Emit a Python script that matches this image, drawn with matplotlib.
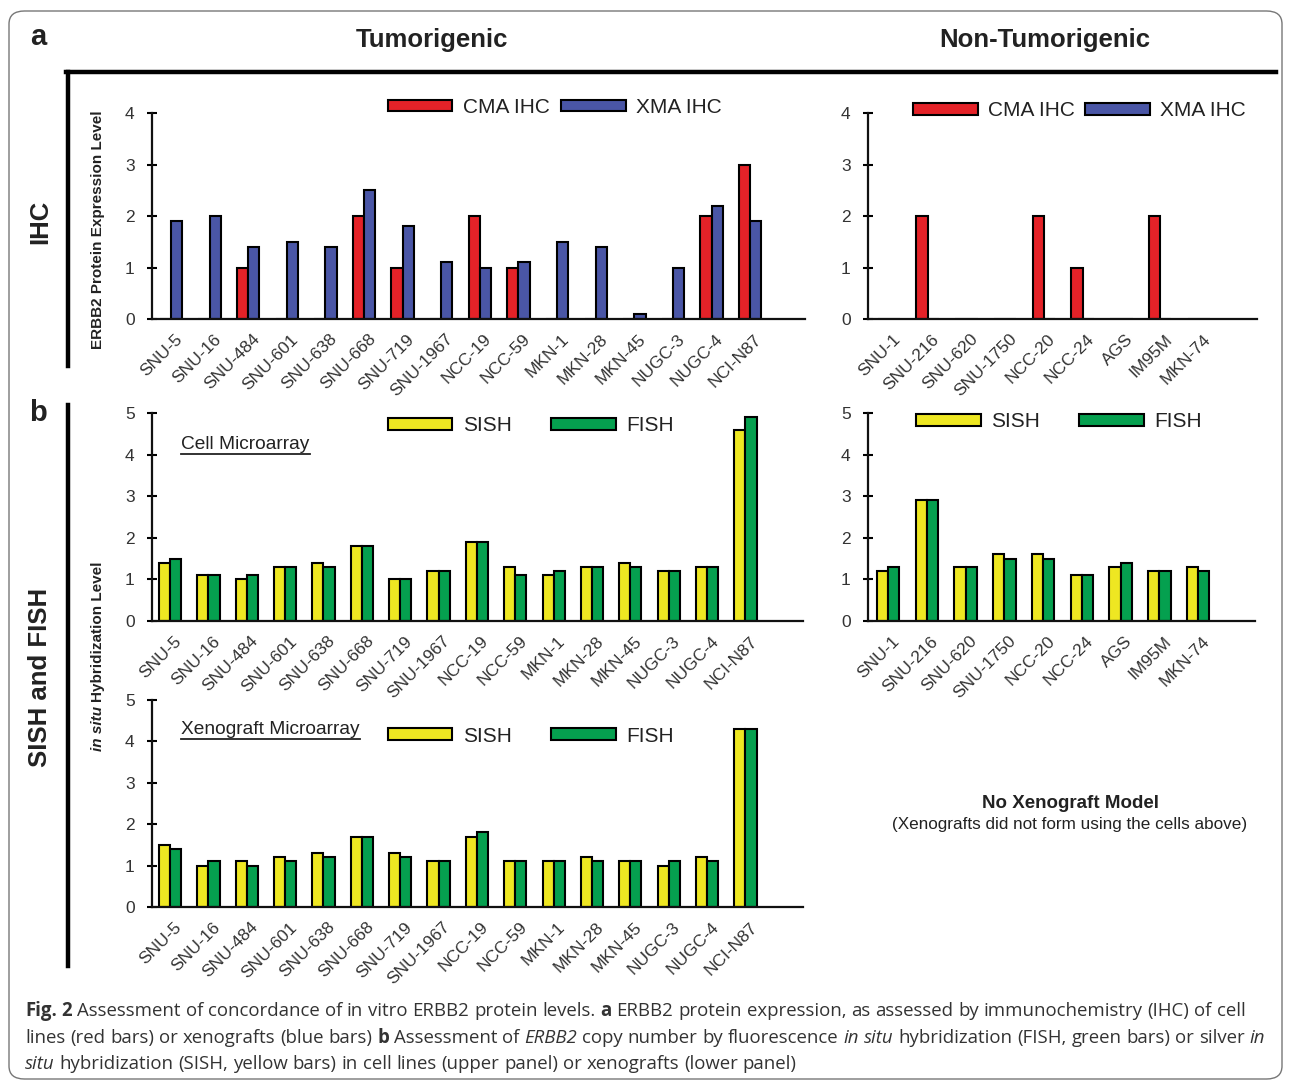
import numpy as np
import matplotlib
matplotlib.use('Agg')
import matplotlib.pyplot as plt
from matplotlib.patches import Patch, FancyBboxPatch
from matplotlib.lines import Line2D

plt.rcParams['font.family'] = ['Liberation Sans', 'DejaVu Sans']

W, H = 1292, 1082

tum_lines = ['SNU-5', 'SNU-16', 'SNU-484', 'SNU-601', 'SNU-638', 'SNU-668', 'SNU-719',
             'SNU-1967', 'NCC-19', 'NCC-59', 'MKN-1', 'MKN-28', 'MKN-45', 'NUGC-3',
             'NUGC-4', 'NCI-N87']
non_lines = ['SNU-1', 'SNU-216', 'SNU-620', 'SNU-1750', 'NCC-20', 'NCC-24', 'AGS',
             'IM95M', 'MKN-74']

# IHC scores
cma_ihc_tum = [0, 0, 1, 0, 0, 2, 1, 0, 2, 1, 0, 0, 0, 0, 2, 3]
xma_ihc_tum = [1.9, 2.0, 1.4, 1.5, 1.4, 2.5, 1.8, 1.1, 1.0, 1.1, 1.5, 1.4, 0.1, 1.0, 2.2, 1.9]
cma_ihc_non = [0, 2, 0, 0, 2, 1, 0, 2, 0]
xma_ihc_non = [0, 0, 0, 0, 0, 0, 0, 0, 0]

# in situ hybridization, cell microarray
sish_cell_tum = [1.4, 1.1, 1.0, 1.3, 1.4, 1.8, 1.0, 1.2, 1.9, 1.3, 1.1, 1.3, 1.4, 1.2, 1.3, 4.6]
fish_cell_tum = [1.5, 1.1, 1.1, 1.3, 1.3, 1.8, 1.0, 1.2, 1.9, 1.1, 1.2, 1.3, 1.3, 1.2, 1.3, 4.9]
sish_cell_non = [1.2, 2.9, 1.3, 1.6, 1.6, 1.1, 1.3, 1.2, 1.3]
fish_cell_non = [1.3, 2.9, 1.3, 1.5, 1.5, 1.1, 1.4, 1.2, 1.2]

# in situ hybridization, xenograft microarray
sish_xeno_tum = [1.5, 1.0, 1.1, 1.2, 1.3, 1.7, 1.3, 1.1, 1.7, 1.1, 1.1, 1.2, 1.1, 1.0, 1.2, 4.3]
fish_xeno_tum = [1.4, 1.1, 1.0, 1.1, 1.2, 1.7, 1.2, 1.1, 1.8, 1.1, 1.1, 1.1, 1.1, 1.1, 1.1, 4.3]

RED, BLUE = '#e42228', '#4a56a6'
YELLOW, GREEN = '#eee722', '#05a04f'
INK = '#222222'

fig = plt.figure(figsize=(W / 100, H / 100), dpi=100)
renderer = fig.canvas.get_renderer()


def px_axes(l, r, t, b):
    return fig.add_axes([l / W, 1 - b / H, (r - l) / W, (b - t) / H])


def bar_panel(ax, labels, s1, s2, c1, c2, ymax, xlim, width=0.29):
    x = np.arange(len(labels))
    ax.bar(x - width / 2, s1, width, color=c1, edgecolor='black', linewidth=1.5)
    ax.bar(x + width / 2, s2, width, color=c2, edgecolor='black', linewidth=1.5)
    ax.set_xlim(*xlim)
    ax.set_ylim(0, ymax)
    ax.set_yticks(range(ymax + 1))
    ax.set_xticks(x + 0.1)
    ax.set_xticklabels(labels, rotation=45, ha='right', rotation_mode='anchor',
                       fontsize=12.5, color='#333333')
    for side in ('top', 'right'):
        ax.spines[side].set_visible(False)
    for side in ('left', 'bottom'):
        ax.spines[side].set_linewidth(1.6)
        ax.spines[side].set_color('#111111')
    ax.tick_params(axis='y', direction='inout', length=7, width=1.5, pad=9,
                   labelsize=12.5, labelcolor='#333333')
    ax.tick_params(axis='x', length=0, pad=9)
    ax.set_facecolor('none')


def legend(ax, names, colors, xy, colspace):
    handles = [Patch(facecolor=c, edgecolor='black', linewidth=1.5) for c in colors]
    ax.legend(handles, names, loc='center left', bbox_to_anchor=xy, ncol=2,
              frameon=False, fontsize=15, handlelength=3.1, handleheight=0.5,
              handletextpad=0.5, columnspacing=colspace, borderpad=0,
              borderaxespad=0, labelcolor=INK)


def underlined(ax, x, y, s):
    t = ax.text(x, y, s, transform=ax.transAxes, fontsize=13.8, va='baseline', color=INK)
    bb = t.get_window_extent(renderer)
    inv = fig.transFigure.inverted()
    (x0, y0), (x1, _) = inv.transform([[bb.x0, bb.y0 - 1], [bb.x1, bb.y1]])
    fig.add_artist(Line2D([x0, x1], [y0, y0], color=INK, lw=1.3))


# a: IHC
ax1 = px_axes(152, 805, 113, 319)
bar_panel(ax1, tum_lines, cma_ihc_tum, xma_ihc_tum, RED, BLUE, 4, (-0.49, 16.42))
legend(ax1, ['CMA IHC', 'XMA IHC'], [RED, BLUE], (0.361, 1.027), 0.55)

ax2 = px_axes(868, 1257, 113, 319)
bar_panel(ax2, non_lines, cma_ihc_non, xma_ihc_non, RED, BLUE, 4, (-0.54, 9.5))
legend(ax2, ['CMA IHC', 'XMA IHC'], [RED, BLUE], (0.116, 1.01), 0.5)

# b: SISH and FISH
ax3 = px_axes(152, 803, 413, 621)
bar_panel(ax3, tum_lines, sish_cell_tum, fish_cell_tum, YELLOW, GREEN, 5, (-0.47, 16.5))
legend(ax3, ['SISH', 'FISH'], [YELLOW, GREEN], (0.362, 0.94), 1.9)

ax4 = px_axes(868, 1255, 413, 621)
bar_panel(ax4, non_lines, sish_cell_non, fish_cell_non, YELLOW, GREEN, 5, (-0.52, 9.47))
legend(ax4, ['SISH', 'FISH'], [YELLOW, GREEN], (0.124, 0.957), 1.9)

ax5 = px_axes(152, 803, 700, 907)
bar_panel(ax5, tum_lines, sish_xeno_tum, fish_xeno_tum, YELLOW, GREEN, 5, (-0.47, 16.5))
legend(ax5, ['SISH', 'FISH'], [YELLOW, GREEN], (0.362, 0.826), 1.9)

underlined(ax3, 0.045, 0.825, 'Cell Microarray')
underlined(ax5, 0.045, 0.838, 'Xenograft Microarray')

# headers and panel labels
fig.text(38 / W, 1 - 37 / H, 'a', fontsize=21, fontweight='bold', ha='center', va='center', color=INK)
fig.text(38 / W, 1 - 413 / H, 'b', fontsize=21, fontweight='bold', ha='center', va='center', color=INK)
fig.text(432 / W, 1 - 40 / H, 'Tumorigenic', fontsize=18.5, fontweight='bold', ha='center', va='center', color=INK)
fig.text(1045 / W, 1 - 40 / H, 'Non-Tumorigenic', fontsize=18.5, fontweight='bold', ha='center', va='center', color=INK)
fig.text(40 / W, 1 - 222 / H, 'IHC', fontsize=18.5, fontweight='bold', rotation=90, ha='center', va='center', color=INK)
fig.text(40 / W, 1 - 677 / H, 'SISH and FISH', fontsize=18.5, fontweight='bold', rotation=90, ha='center', va='center', color=INK)

# bracket lines
fig.add_artist(Line2D([66 / W, 1276 / W], [1 - 72 / H, 1 - 72 / H], color='black', lw=3.2))
fig.add_artist(Line2D([68 / W, 68 / W], [1 - 72 / H, 1 - 366 / H], color='black', lw=3.2))
fig.add_artist(Line2D([68 / W, 68 / W], [1 - 405 / H, 1 - 966 / H], color='black', lw=3.2))

# y axis titles
fig.text(98 / W, 1 - 230 / H, 'ERBB2 Protein Expression Level', fontsize=11, fontweight='bold',
         rotation=90, ha='center', va='center', color=INK)
fig.text(98 / W, 1 - 706 / H, 'in situ', fontsize=11, fontweight='bold', fontstyle='italic',
         rotation=90, ha='center', va='top', color=INK)
fig.text(98 / W, 1 - 702 / H, 'Hybridization Level', fontsize=11, fontweight='bold',
         rotation=90, ha='center', va='bottom', color=INK)

fig.text(1070 / W, 1 - 803 / H, 'No Xenograft Model', fontsize=13.5, fontweight='bold',
         ha='center', va='center', color=INK)
fig.text(1070 / W, 1 - 825 / H, '(Xenografts did not form using the cells above)', fontsize=12.3,
         ha='center', va='center', color=INK)

# caption, set word by word so bold and italic runs can mix
cap_font = ['Open Sans', 'DejaVu Sans']
B = dict(fontweight='bold')
I = dict(fontstyle='italic')
N = {}
caption = [
    (1016, [('Fig. 2', B), (' Assessment of concordance of in vitro ERBB2 protein levels. ', N),
            ('a', B), (' ERBB2 protein expression, as assessed by immunochemistry (IHC) of cell', N)]),
    (1043, [('lines (red bars) or xenografts (blue bars) ', N), ('b', B), (' Assessment of ', N),
            ('ERBB2', I), (' copy number by fluorescence ', N), ('in situ', I),
            (' hybridization (FISH, green bars) or silver ', N), ('in', I)]),
    (1069, [('situ', I), (' hybridization (SISH, yellow bars) in cell lines (upper panel) or xenografts (lower panel)', N)]),
]


def run_width(s, size, **kw):
    t = fig.text(0, 0, s, fontsize=size, family=cap_font, **kw)
    w = t.get_window_extent(renderer).width
    t.remove()
    return w


def caption_line(y, runs, size, draw=True):
    x = 25
    for s, kw in runs:
        words = s.split(' ')
        space = run_width('x x', size, **kw) - run_width('xx', size, **kw)
        for i, word in enumerate(words):
            if word:
                if draw:
                    t = fig.text(x / W, 1 - y / H, word, fontsize=size, family=cap_font,
                                 va='baseline', color='#333333', **kw)
                    x += t.get_window_extent(renderer).width
                else:
                    x += run_width(word, size, **kw)
            if i < len(words) - 1:
                x += space
    return x


base = 12
cap_size = base * (1235 - 25) / (caption_line(*caption[0], base, draw=False) - 25)
for y, runs in caption:
    caption_line(y, runs, cap_size)

# outer frame
frame = FancyBboxPatch((9 / W, 1 - 1079 / H), 1273 / W, 1068 / H,
                       boxstyle='round,pad=0,rounding_size=0.012', transform=fig.transFigure,
                       facecolor='none', edgecolor='#777777', lw=1.0)
fig.add_artist(frame)

fig.savefig('out.png', dpi=100)
